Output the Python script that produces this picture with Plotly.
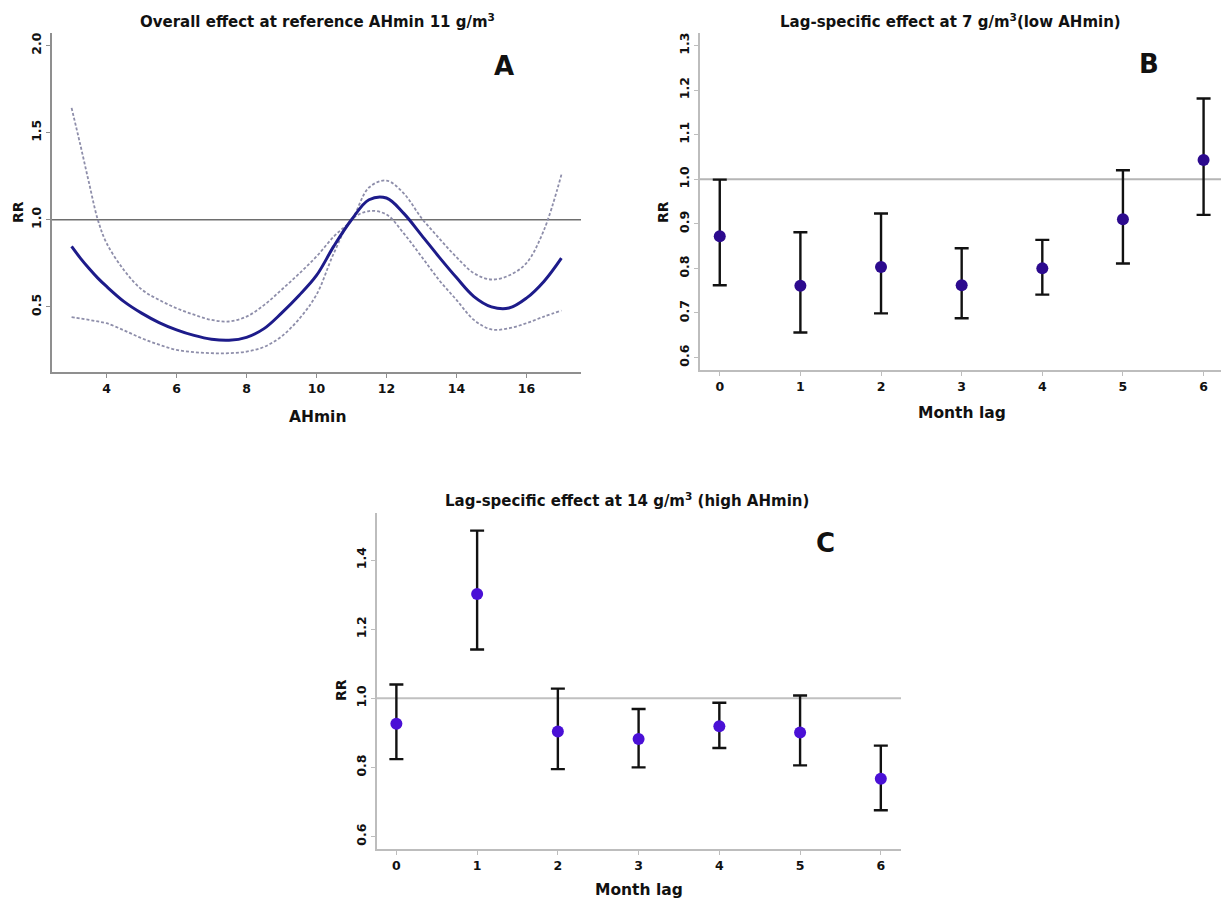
import plotly.graph_objects as go

# ---------------- data ----------------
# Panel A: overall cumulative effect vs AHmin (reference 11 g/m3)
ah_x = [3.0, 3.25, 3.5, 3.75, 4.0, 4.5, 5.0, 5.5, 6.0, 6.5, 7.0, 7.5, 8.0, 8.5, 9.0, 9.5,
        10.0, 10.5, 11.0, 11.5, 12.0, 12.5, 13.0, 13.5, 14.0, 14.5, 15.0, 15.5, 16.0, 16.5, 17.0]
ah_rr = [0.847, 0.78, 0.72, 0.665, 0.617, 0.53, 0.464, 0.41, 0.368, 0.336, 0.314, 0.308, 0.325,
         0.375, 0.464, 0.565, 0.68, 0.85, 1.0, 1.115, 1.125, 1.035, 0.912, 0.787, 0.668, 0.559,
         0.500, 0.493, 0.550, 0.646, 0.780]
ah_hi = [1.642, 1.43, 1.21, 1.0, 0.866, 0.71, 0.60, 0.54, 0.492, 0.455, 0.425, 0.416, 0.444,
         0.51, 0.598, 0.69, 0.789, 0.905, 1.0, 1.185, 1.225, 1.15, 1.01, 0.895, 0.785, 0.693,
         0.657, 0.68, 0.751, 0.94, 1.259]
ah_lo = [0.441, 0.433, 0.425, 0.416, 0.406, 0.365, 0.320, 0.283, 0.253, 0.240, 0.234, 0.234,
         0.243, 0.27, 0.33, 0.43, 0.57, 0.81, 1.0, 1.05, 1.03, 0.92, 0.789, 0.655, 0.540, 0.425,
         0.37, 0.377, 0.406, 0.444, 0.479]

# Panel B: lag-specific effect at 7 g/m3
lags = [0, 1, 2, 3, 4, 5, 6]
b_rr = [0.872, 0.761, 0.803, 0.762, 0.800, 0.910, 1.043]
b_lo = [0.762, 0.656, 0.699, 0.688, 0.741, 0.811, 0.920]
b_hi = [0.999, 0.881, 0.923, 0.845, 0.864, 1.020, 1.181]

# Panel C: lag-specific effect at 14 g/m3
c_rr = [0.926, 1.302, 0.904, 0.882, 0.919, 0.901, 0.767]
c_lo = [0.824, 1.141, 0.795, 0.800, 0.856, 0.806, 0.676]
c_hi = [1.040, 1.485, 1.028, 0.969, 0.987, 1.008, 0.863]

a_xticks = [4, 6, 8, 10, 12, 14, 16]
a_yticks = [0.5, 1.0, 1.5, 2.0]
b_yticks = [0.6, 0.7, 0.8, 0.9, 1.0, 1.1, 1.2, 1.3]
c_yticks = [0.6, 0.8, 1.0, 1.2, 1.4]

# ---------------- layout helpers ----------------
W, H = 1221, 905
FONT = "DejaVu Sans"


def px(x):
    return x / W


def py(y):
    return 1 - y / H


fig = go.Figure()

# Panel A
fig.add_trace(go.Scatter(x=ah_x, y=ah_hi, mode="lines", line=dict(color="#8e8eaa", width=1.8, dash="3px,2px", shape="spline"),
                         xaxis="x", yaxis="y", showlegend=False, hoverinfo="skip"))
fig.add_trace(go.Scatter(x=ah_x, y=ah_lo, mode="lines", line=dict(color="#8e8eaa", width=1.8, dash="3px,2px", shape="spline"),
                         xaxis="x", yaxis="y", showlegend=False, hoverinfo="skip"))
fig.add_trace(go.Scatter(x=ah_x, y=ah_rr, mode="lines", line=dict(color="#1d1b8a", width=3, shape="spline"),
                         xaxis="x", yaxis="y", showlegend=False))


def err(rr, lo, hi):
    return dict(type="data", symmetric=False,
                array=[h - r for r, h in zip(rr, hi)],
                arrayminus=[r - l for r, l in zip(rr, lo)],
                color="#111111", thickness=2.4, width=7)


fig.add_trace(go.Scatter(x=lags, y=b_rr, mode="markers", marker=dict(color="#2c0a8e", size=12),
                         error_y=err(b_rr, b_lo, b_hi), xaxis="x2", yaxis="y2", showlegend=False))
fig.add_trace(go.Scatter(x=lags, y=c_rr, mode="markers", marker=dict(color="#4a10d6", size=12),
                         error_y=err(c_rr, c_lo, c_hi), xaxis="x3", yaxis="y3", showlegend=False))

tickfont = dict(family=FONT, size=12.5, color="#111111", weight="bold")


def xax(dom, rng, tv, lc):
    return dict(domain=dom, range=rng, tickvals=tv, showgrid=False, zeroline=False,
                showline=True, linecolor=lc, linewidth=1.5, ticks="outside", ticklen=4,
                tickcolor=lc, tickfont=tickfont, fixedrange=True)


def yax(dom, rng, tv, lc, anchor, fmt):
    return dict(domain=dom, range=rng, tickvals=tv, tickformat=fmt, showgrid=False, zeroline=False,
                showline=True, linecolor=lc, linewidth=1.5, ticks="outside", ticklen=4,
                tickcolor=lc, tickfont=tickfont, tickangle=-90, anchor=anchor, fixedrange=True)


fig.update_layout(
    width=W, height=H, margin=dict(l=0, r=0, t=0, b=0),
    paper_bgcolor="white", plot_bgcolor="white",
    font=dict(family=FONT, color="#111111"),
    xaxis=xax([px(52), px(581)], [2.44, 17.56], a_xticks, "#8f8f8f"),
    yaxis=yax([py(372), py(33)], [0.126, 2.072], a_yticks, "#8f8f8f", "x", ".1f"),
    xaxis2=dict(xax([px(700), 1.0], [-0.245, 6.216], lags, "#bdbdbd"), anchor="y2"),
    yaxis2=yax([py(370), py(33)], [0.572, 1.328], b_yticks, "#bdbdbd", "x2", ".1f"),
    xaxis3=dict(xax([px(377), px(901)], [-0.24, 6.25], lags, "#bdbdbd"), anchor="y3"),
    yaxis3=yax([py(849), py(513)], [0.564, 1.536], c_yticks, "#bdbdbd", "x3", ".1f"),
)
fig.layout.xaxis.anchor = "y"

# reference lines at RR = 1
fig.add_shape(type="line", xref="x domain", yref="y", x0=0, x1=1, y0=1, y1=1,
              line=dict(color="#6e6e6e", width=1.5), layer="below")
fig.add_shape(type="line", xref="x2 domain", yref="y2", x0=0, x1=1, y0=1, y1=1,
              line=dict(color="#b5b5b5", width=2), layer="below")
fig.add_shape(type="line", xref="x3 domain", yref="y3", x0=0, x1=1, y0=1, y1=1,
              line=dict(color="#c0c0c0", width=2), layer="below")


def ann(text, x, y, size, angle=0):
    fig.add_annotation(text=text, x=px(x), y=py(y), xref="paper", yref="paper",
                       showarrow=False, textangle=angle, xanchor="center", yanchor="middle",
                       font=dict(family=FONT, size=size, color="#111111", weight="bold"))


ann("Overall effect at reference AHmin 11 g/m<sup>3</sup>", 317, 21, 15)
ann("Lag-specific effect at 7 g/m<sup>3</sup>(low AHmin)", 951, 21, 15)
ann("Lag-specific effect at 14 g/m<sup>3</sup> (high AHmin)", 627, 500, 15)
ann("A", 504, 66, 26)
ann("B", 1149, 64, 26)
ann("C", 825, 543, 26)
ann("RR", 18, 212, 14, -90)
ann("RR", 663, 212, 14, -90)
ann("RR", 341, 690, 14, -90)
ann("AHmin", 317, 417, 15.5)
ann("Month lag", 962, 413, 15.5)
ann("Month lag", 639, 890, 15.5)

fig.write_html("out.html", config={"displayModeBar": False},
               post_script="document.body.style.margin='0px';document.body.style.overflow='hidden';")
